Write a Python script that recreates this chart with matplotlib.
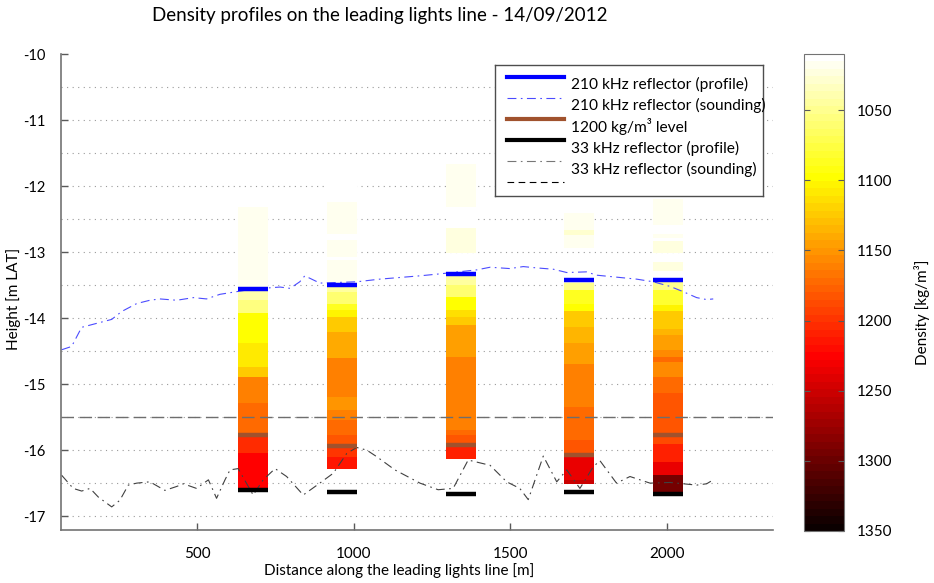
import numpy as np
import matplotlib.pyplot as plt
from matplotlib.colors import Normalize

plt.rcParams['font.family'] = 'Lato'
plt.rcParams['axes.unicode_minus'] = False

# Profile positions along the leading lights line [m]
profile_x = [677, 962, 1342, 1720, 2005]
half_width = 48

# Density cells per profile: edges [m LAT] top -> bottom, density per cell (nan = no data)
p1_edges = [-12.16, -12.31, -13.58, -13.73, -13.93, -14.38, -14.74, -14.89, -15.29, -15.77, -16.05, -16.61]
p1_rho = [1012, 1020, 1039, 1056, 1096, 1109, 1124, 1160, 1170, 1205, 1226]

p2_edges = [-11.95, -12.24, -12.72, -12.82, -13.07, -13.12, -13.53, -13.60, -13.78, -13.88, -13.98,
            -14.21, -14.61, -15.19, -15.39, -15.55, -15.77, -15.94, -16.10, -16.28]
p2_rho = [1012, 1020, np.nan, 1020, np.nan, 1020, 1045, 1060, 1085, 1103, 1124,
          1140, 1160, 1150, 1160, 1170, 1180, 1200, 1215]

p3_edges = [-11.66, -12.31, -12.38, -12.64, -13.02, -13.20, -13.30, -13.37, -13.50, -13.68, -13.88,
            -13.98, -14.11, -14.59, -15.70, -15.77, -15.92, -16.13]
p3_rho = [1020, np.nan, 1015, 1022, np.nan, 1015, 1035, 1045, 1060, 1096,
          1114, 1124, 1146, 1160, 1170, 1180, 1210]

p4_edges = [-12.05, -12.31, -12.41, -12.67, -12.74, -12.94, -13.40, -13.47, -13.58, -13.78, -13.90,
            -14.13, -14.38, -14.69, -15.34, -15.85, -16.08, -16.45, -16.52]
p4_rho = [1015, np.nan, 1020, 1028, 1020, np.nan, 1030, 1048, 1085, 1096,
          1124, 1135, 1146, 1160, 1170, 1180, 1238, 1250]

p5_edges = [-12.19, -12.59, -12.72, -12.78, -12.83, -13.02, -13.15, -13.28, -13.40, -13.45, -13.58,
            -13.80, -13.90, -14.16, -14.26, -14.48, -14.59, -14.66, -14.89, -15.14, -15.77, -15.90,
            -16.18, -16.38, -16.67]
p5_rho = [1018, np.nan, 1020, np.nan, 1022, np.nan, 1022, np.nan, 1045, 1052,
          1082, 1103, 1124, 1135, 1146, 1155, 1170, 1155, 1170, 1180, 1190,
          1210, 1238, 1293]

profile_edges = [p1_edges, p2_edges, p3_edges, p4_edges, p5_edges]
profile_rho = [p1_rho, p2_rho, p3_rho, p4_rho, p5_rho]

# Levels picked on each profile [m LAT]
refl_210_profile = [-13.56, -13.50, -13.33, -13.43, -13.42]
level_1200 = [-15.77, -15.94, -15.92, -16.08, -15.77]
refl_33_profile = [-16.60, -16.63, -16.67, -16.63, -16.67]

# Sounding lines
sound210_x = [66, 98, 130, 178, 226, 258, 306, 348, 380, 434, 487, 529, 572, 625, 678, 764, 796,
              827, 843, 891, 1010, 1083, 1211, 1275, 1392, 1435, 1498, 1541, 1584, 1637, 1680,
              1743, 1775, 1839, 1903, 1956, 2010, 2052, 2095, 2127, 2148]
sound210_z = [-14.48, -14.43, -14.14, -14.08, -14.02, -13.90, -13.78, -13.73, -13.71, -13.73, -13.69,
              -13.71, -13.64, -13.60, -13.56, -13.53, -13.55, -13.45, -13.36, -13.47, -13.45, -13.41,
              -13.36, -13.33, -13.27, -13.23, -13.25, -13.22, -13.24, -13.26, -13.31, -13.30, -13.35,
              -13.38, -13.41, -13.45, -13.52, -13.60, -13.69, -13.72, -13.71]

sound33_x = [66, 103, 130, 157, 183, 226, 252, 279, 306, 348, 396, 434, 455, 497, 535, 550, 561,
             588, 604, 630, 678, 710, 748, 785, 838, 891, 934, 977, 1009, 1041, 1073, 1131, 1211,
             1269, 1317, 1365, 1435, 1488, 1530, 1557, 1605, 1648, 1680, 1722, 1765, 1786, 1839,
             1882, 1946, 2010, 2095, 2127, 2148]
sound33_z = [-16.38, -16.58, -16.62, -16.58, -16.71, -16.86, -16.76, -16.53, -16.50, -16.48, -16.61,
             -16.55, -16.51, -16.58, -16.45, -16.61, -16.73, -16.45, -16.30, -16.28, -16.68, -16.45,
             -16.28, -16.40, -16.68, -16.50, -16.35, -16.05, -15.96, -16.00, -16.10, -16.30, -16.50,
             -16.60, -16.58, -16.15, -16.23, -16.48, -16.58, -16.75, -16.09, -16.48, -16.30, -16.58,
             -16.25, -16.16, -16.50, -16.40, -16.50, -16.49, -16.53, -16.51, -16.45]

level_33_sounding = -15.5

legend_labels = ['210 kHz reflector (profile)', '210 kHz reflector (sounding)',
                 '1200 kg/m\u00b3 level', '33 kHz reflector (profile)', '33 kHz reflector (sounding)']

cmap = plt.get_cmap('hot_r', 64)
norm = Normalize(1010, 1350)

fig = plt.figure(figsize=(9.34, 5.83), dpi=100)
ax = fig.add_axes([61 / 934, 53 / 583, 712 / 934, 476 / 583])
cax = fig.add_axes([804 / 934, 52 / 583, 40 / 934, 477 / 583])

# dotted horizontal grid every 0.5 m
for g in np.arange(-17, -10.4, 0.5):
    ax.axhline(g, color='#9a9a9a', lw=0.8, ls=(0, (1, 4)), zorder=0.5)

mesh = None
for x, edges, rho in zip(profile_x, profile_edges, profile_rho):
    c = np.ma.masked_invalid(np.array(rho, dtype=float))[:, None]
    mesh = ax.pcolormesh([x - half_width, x + half_width], edges, c, cmap=cmap, norm=norm, zorder=1)

ax.plot(sound210_x, sound210_z, color='#4b4bff', lw=0.8, ls=(0, (8, 4, 1.5, 4)), zorder=2)
ax.plot(sound33_x, sound33_z, color='#404040', lw=0.8, ls=(0, (8, 4, 1.5, 4)), zorder=2)
ax.axhline(level_33_sounding, color='#6e6e6e', lw=1.0, ls=(0, (9, 4)), zorder=2)

xl = [x - half_width for x in profile_x]
xr = [x + half_width for x in profile_x]
ax.hlines(refl_210_profile, xl, xr, color='#0000ff', lw=3.2, zorder=3)
ax.hlines(level_1200, xl, xr, color='#a0522d', lw=3.2, zorder=3)
ax.hlines(refl_33_profile, xl, xr, color='black', lw=3.2, zorder=3)

ax.set_xlim(64, 2339)
ax.set_ylim(-17.21, -10)
ax.set_xticks([500, 1000, 1500, 2000])
ax.set_yticks(np.arange(-17, -9.9, 1))
ax.tick_params(direction='in', length=5, width=1, color='0.35', labelsize=11)
ax.tick_params(axis='x', pad=12)
ax.tick_params(axis='y', pad=11, labelsize=10.5)
for s in ['top', 'right']:
    ax.spines[s].set_visible(False)
for s in ['left', 'bottom']:
    ax.spines[s].set_color('0.45')
    ax.spines[s].set_linewidth(1.2)

ax.set_xlabel('Distance along the leading lights line [m]', fontsize=11)
ax.set_ylabel('Height [m LAT]', fontsize=11)
ax.xaxis.set_label_coords(0.475, -0.070)
ax.yaxis.set_label_coords(-0.056, 0.485)

fig.text(380 / 934, 1 - 16 / 583, 'Density profiles on the leading lights line - 14/09/2012',
         ha='center', va='center', fontsize=13.5)

# legend box (sample lines sit half a row above their labels, as in the original export)
lax = ax.inset_axes([0.6096, 0.7017, 0.3764, 0.2753])
lax.set_xlim(0, 1)
lax.set_ylim(0, 1)
lax.set_xticks([])
lax.set_yticks([])
for s in lax.spines.values():
    s.set_color('0.3')
    s.set_linewidth(1)
samples = [dict(color='#0000ff', lw=3),
           dict(color='#4b4bff', lw=0.8, ls=(0, (8, 4, 1.5, 4))),
           dict(color='#a0522d', lw=3),
           dict(color='black', lw=3),
           dict(color='#777777', lw=0.8, ls=(0, (8, 4, 1.5, 4))),
           dict(color='black', lw=0.8, ls=(0, (6, 4)))]
for i, kw in enumerate(samples):
    yy = 1 - (12 + 21 * i) / 131
    lax.plot([0.045, 0.257], [yy, yy], **kw)
for i, lab in enumerate(legend_labels):
    yy = 1 - (20 + 21 * i) / 131
    lax.text(0.284, yy, lab, va='center', ha='left', fontsize=11.2, clip_on=False)

cb = fig.colorbar(mesh, cax=cax)
cax.invert_yaxis()
cb.set_ticks([1050, 1100, 1150, 1200, 1250, 1300, 1350])
cb.outline.set_edgecolor('0.45')
cax.tick_params(direction='in', length=4, color='0.35', labelsize=11, pad=9, left=True)
cax.text(2.95, 0.459, 'Density [kg/m\u00b3]', rotation=90, va='center', ha='center',
         fontsize=11, transform=cax.transAxes)

fig.savefig('out.png', dpi=100)
